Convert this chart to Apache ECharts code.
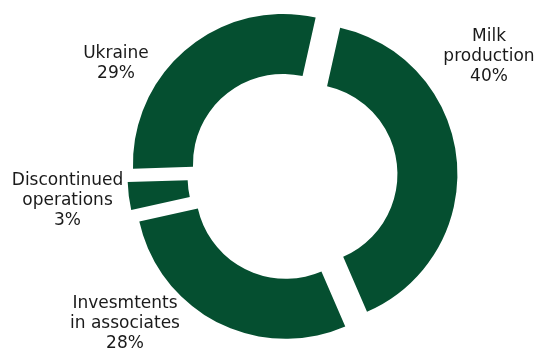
<!DOCTYPE html>
<html>
<head>
<meta charset="utf-8">
<script src="https://cdn.jsdelivr.net/npm/echarts@6/dist/echarts.min.js"></script>
<style>
html,body{margin:0;padding:0;background:#fff;}
#chart{width:539px;height:351px;}
</style>
</head>
<body>
<div id="chart"></div>
<script>
// segment names and shares (%)
var segments = ['Milk\nproduction', 'Invesmtents\nin associates', 'Discontinued\noperations', 'Ukraine'];
var shares = [40, 28, 3, 29];

// centre of each label block, in px
var labelSpots = [[489, 57], [125, 324], [67.5, 201], [116, 64]];

var green = '#054f30';
var textColor = '#1a1a1a';
var chart = echarts.init(document.getElementById('chart'));

// labels sit away from the slices, so they are placed as text graphics
var labels = segments.map(function(name, i) {
    return {
        type: 'text',
        x: labelSpots[i][0],
        y: labelSpots[i][1],
        silent: true,
        style: {
            text: name + '\n' + shares[i] + '%',
            fontFamily: 'DejaVu Sans',
            fontSize: 17,
            lineHeight: 20,
            fill: textColor,
            align: 'center',
            verticalAlign: 'middle'
        }
    };
});

var option = {
    animation: false,
    graphic: labels,
    series: [{
        type: 'pie',
        center: [292.5, 175.5],
        radius: [90, 150],
        startAngle: 77.4,
        clockwise: true,
        //all slices pulled out a little, like the exploded donut
        selectedMode: 'multiple',
        selectedOffset: 15,
        silent: true,
        itemStyle: {color: green},
        select: {itemStyle: {color: green}},
        label: {show: false},
        labelLine: {show: false},
        data: segments.map(function(name, i) {
            return {name: name, value: shares[i], selected: true};
        })
    }]
};
chart.setOption(option);
</script>
</body>
</html>
